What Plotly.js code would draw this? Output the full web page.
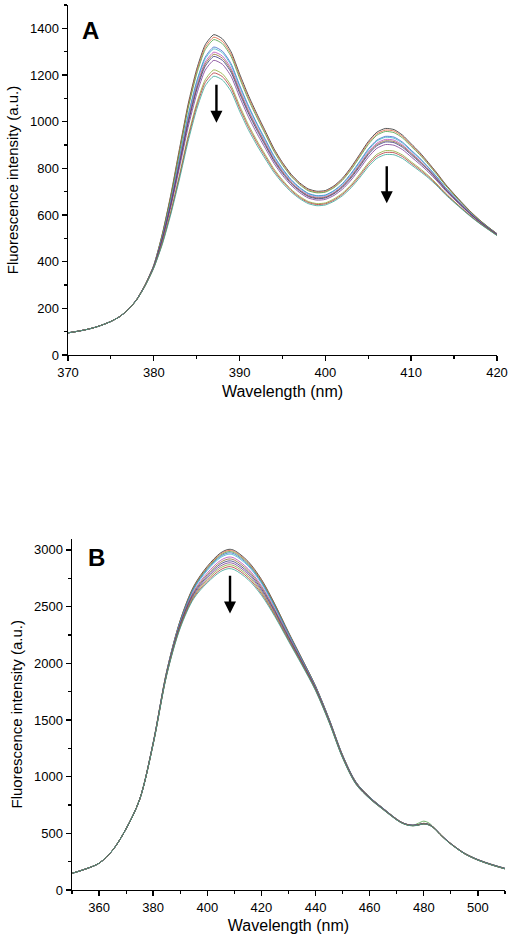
<!DOCTYPE html>
<html><head><meta charset="utf-8">
<script src="https://cdn.plot.ly/plotly-3.0.1.min.js"></script>
<style>html,body{margin:0;padding:0;background:#fff}</style>
</head><body><div id="chart" style="width:512px;height:947px"></div>
<script>
// ---------- Panel A data (wavelength in nm, intensity in a.u.) ----------
const wlA = [370,371,372,373,374,375,376,377,378,379,380,381,382,383,384,385,386,387,388,389,390,391,392,393,394,395,396,397,398,399,400,401,402,403,404,405,406,407,408,409,410,411,412,413,414,415,416,417,418,419,420];
const a1  = [95,101,108,117,129,144,164,194,238,302,385,520,690,885,1075,1225,1330,1373,1355,1300,1205,1115,1035,960,885,825,775,738,712,702,705,725,758,805,860,915,955,971,966,942,905,868,825,780,732,690,650,612,578,548,520];
const a2  = [95,101,108,117,129,144,164,194,238,302,384,517,685,877,1065,1215,1319,1362,1344,1290,1195,1106,1027,953,879,820,770,734,708,698,701,721,753,800,854,909,948,964,960,936,900,863,821,777,729,688,648,611,577,547,520];
const a3  = [95,101,108,117,129,144,164,194,238,301,384,515,680,869,1056,1204,1309,1352,1334,1280,1186,1097,1019,946,873,814,766,730,704,695,698,717,749,794,848,902,942,958,953,930,894,858,817,773,727,686,647,609,576,547,519];
const a4  = [95,101,108,117,129,144,164,194,237,300,381,506,664,846,1027,1173,1277,1320,1302,1249,1157,1071,994,924,854,799,752,718,693,683,686,705,735,779,830,883,921,937,934,912,878,844,805,763,718,679,642,606,573,545,518];
const a5  = [95,101,108,117,129,144,164,194,237,300,381,505,661,841,1021,1167,1270,1312,1295,1242,1151,1065,989,919,850,795,749,715,691,681,684,703,732,775,826,878,917,933,929,908,874,841,803,761,717,678,640,605,573,544,517];
const a6  = [95,101,108,117,129,144,164,194,237,300,380,501,654,830,1008,1153,1256,1298,1281,1229,1138,1053,978,910,842,788,743,709,686,676,679,697,726,768,818,870,908,924,921,900,867,834,797,757,713,675,638,603,572,543,517];
const a7  = [95,101,108,117,129,144,164,194,237,300,379,499,650,824,1000,1144,1247,1289,1272,1220,1130,1045,972,904,837,784,739,706,682,673,676,694,723,764,813,864,902,918,915,895,863,830,794,754,711,673,637,602,571,543,516];
const a8  = [95,101,108,117,129,144,164,194,237,299,379,497,646,817,992,1136,1238,1280,1263,1212,1122,1038,965,898,832,779,735,703,679,670,673,691,719,759,808,859,897,913,910,890,858,826,791,751,709,671,635,601,570,542,516];
const a9  = [95,101,108,117,129,144,164,194,237,299,378,492,637,804,976,1118,1221,1263,1246,1195,1106,1023,951,886,822,770,728,696,673,664,667,684,711,750,798,848,886,902,899,880,849,818,784,746,704,668,633,599,569,541,515];
const a10 = [95,101,108,117,129,144,164,194,236,298,375,482,618,774,939,1079,1180,1222,1205,1155,1069,989,920,858,798,750,710,680,658,649,652,669,694,730,775,823,860,876,874,857,828,800,769,733,694,659,626,594,565,539,513];
const a11 = [95,101,108,117,129,144,164,194,236,297,374,479,612,765,928,1067,1168,1209,1193,1144,1058,979,911,850,791,744,705,675,654,645,648,664,689,724,768,816,852,868,867,850,822,794,764,729,691,657,624,593,564,538,513];
const a12 = [95,101,108,117,129,144,164,194,236,297,373,475,605,755,915,1053,1154,1195,1179,1130,1045,967,900,840,783,737,699,670,649,640,643,659,683,717,760,807,843,859,858,842,815,788,759,725,687,654,622,591,563,537,512];

// ---------- Panel B data ----------
const wlB = [350,355,360,365,370,375,380,385,390,395,400,405,408,410,415,420,425,430,435,440,445,450,455,460,465,470,472,474,476,478,480,482,484,486,488,490,495,500,505,510];
const b1  = [147,185,236,350,540,800,1300,1930,2380,2680,2855,2975,3005,2995,2900,2740,2520,2275,2040,1800,1510,1190,950,820,720,625,595,578,572,578,588,578,545,495,450,410,325,268,226,191];
const b2  = [147,185,236,350,540,800,1299,1928,2376,2673,2846,2965,2995,2985,2890,2732,2513,2270,2037,1797,1508,1188,949,819,719,625,595,578,572,578,588,578,545,495,450,410,325,268,226,191];
const b3  = [147,185,236,350,540,800,1298,1926,2372,2667,2838,2955,2985,2975,2881,2723,2507,2265,2033,1795,1506,1187,948,818,719,624,594,577,571,589,607,589,544,494,449,409,324,267,225,190];
const b4  = [147,185,236,350,540,799,1297,1924,2367,2660,2829,2945,2974,2964,2871,2715,2500,2261,2030,1792,1504,1185,946,817,718,624,594,577,571,577,587,577,544,494,449,409,324,267,225,190];
const b5  = [147,185,236,350,540,799,1296,1921,2362,2652,2819,2934,2962,2952,2860,2705,2492,2255,2025,1789,1502,1183,945,816,717,623,593,576,570,576,586,576,543,493,448,408,324,267,225,190];
const b6  = [147,185,236,350,540,799,1294,1916,2352,2636,2797,2909,2937,2927,2836,2684,2476,2243,2017,1783,1497,1180,942,814,715,622,593,576,570,576,586,576,543,493,448,408,323,266,224,189];
const b7  = [147,185,236,350,540,798,1292,1912,2345,2625,2782,2892,2920,2910,2820,2670,2465,2235,2011,1779,1494,1177,940,812,714,621,592,575,569,575,585,575,542,492,447,407,322,265,223,188];
const b8  = [147,185,236,350,540,798,1291,1909,2338,2614,2768,2876,2903,2893,2804,2656,2454,2227,2005,1775,1491,1174,938,811,713,620,591,574,568,574,584,574,541,491,446,406,322,265,223,188];
const b9  = [147,185,236,350,540,798,1289,1905,2331,2603,2753,2859,2886,2876,2788,2642,2443,2219,1999,1771,1488,1172,936,809,712,619,591,574,568,574,584,574,541,491,446,406,321,264,222,187];
const b10 = [147,185,236,350,540,798,1288,1902,2324,2592,2739,2843,2869,2859,2772,2628,2432,2211,1994,1766,1484,1169,934,808,710,619,590,573,567,573,583,573,540,490,445,405,321,264,222,187];
const b11 = [147,185,236,350,540,797,1286,1898,2317,2581,2724,2826,2852,2842,2756,2614,2421,2203,1988,1762,1481,1167,932,806,709,618,590,573,567,573,583,573,540,490,445,405,320,263,221,186];
const b12 = [147,185,236,350,540,797,1285,1895,2310,2570,2710,2810,2835,2825,2740,2600,2410,2195,1982,1758,1478,1164,930,805,708,617,589,572,566,572,582,572,539,489,444,404,320,263,221,186];

const seriesA = [a1,a2,a3,a4,a5,a6,a7,a8,a9,a10,a11,a12];
const seriesB = [b1,b2,b3,b4,b5,b6,b7,b8,b9,b10,b11,b12];
const colors = ['#2a2a2a','#e0603a','#4aa040','#3a66c8','#3ab4cc','#b844b8','#8a6a2a','#34347e','#7a3a90','#8aa832','#b03434','#34a494'];

const traces = [];
seriesA.forEach((s,i)=>traces.push({x:wlA, y:s, xaxis:'x', yaxis:'y', type:'scatter', mode:'lines',
  line:{color:colors[i], width:0.8, shape:'spline', smoothing:0.6}, hoverinfo:'skip', showlegend:false}));
seriesB.forEach((s,i)=>traces.push({x:wlB, y:s, xaxis:'x2', yaxis:'y2', type:'scatter', mode:'lines',
  line:{color:colors[i], width:0.8, shape:'spline', smoothing:0.9}, hoverinfo:'skip', showlegend:false}));

const FONT = 'Liberation Sans, Arial, sans-serif';
function ax(o){
  return Object.assign({showline:true, linecolor:'#000', linewidth:1.4, ticks:'outside', ticklen:5, tickwidth:1.4,
    tickcolor:'#000', showgrid:false, zeroline:false, mirror:false, automargin:false,
    tickfont:{family:FONT, size:13, color:'#000'}}, o);
}
function minor(d){ return {ticks:'outside', ticklen:3, tickwidth:1.2, tickcolor:'#000', dtick:d, showgrid:false}; }
const xTitle = {text:'Wavelength (nm)', font:{family:FONT, size:16, color:'#000'}, standoff:6};
const yTitle = {text:'Fluorescence intensity (a.u.)', font:{family:FONT, size:15, color:'#000'}, standoff:8};

const layout = {
  width:512, height:947, margin:{l:0,r:0,t:0,b:0},
  paper_bgcolor:'#fff', plot_bgcolor:'#fff', showlegend:false,
  font:{family:FONT, color:'#000'},
  xaxis: ax({domain:[0.1328,0.9707], anchor:'y', range:[370,420], dtick:10, tick0:370, minor:minor(5), title:xTitle}),
  yaxis: ax({domain:[0.6251,0.9947], anchor:'x', range:[0,1500], dtick:200, tick0:0, minor:minor(100), title:yTitle}),
  xaxis2: ax({domain:[0.1406,0.9863], anchor:'y2', range:[350,510], dtick:20, tick0:360, minor:minor(10), title:xTitle}),
  yaxis2: ax({domain:[0.0602,0.4313], anchor:'x2', range:[0,3100], dtick:500, tick0:0, minor:minor(250), title:yTitle}),
  annotations:[
    {xref:'paper', yref:'paper', x:0.1758, y:0.9673, text:'<b>A</b>', showarrow:false, font:{family:FONT, size:24, color:'#000'}, xanchor:'center', yanchor:'middle'},
    {xref:'paper', yref:'paper', x:0.1875, y:0.4113, text:'<b>B</b>', showarrow:false, font:{family:FONT, size:24, color:'#000'}, xanchor:'center', yanchor:'middle'},
    {xref:'x', yref:'y', axref:'x', ayref:'y', x:387.3, y:995, ax:387.3, ay:1165, text:'', showarrow:true, arrowhead:2, arrowsize:1, arrowwidth:2.4, arrowcolor:'#000'},
    {xref:'x', yref:'y', axref:'x', ayref:'y', x:407.15, y:650, ax:407.15, ay:815, text:'', showarrow:true, arrowhead:2, arrowsize:1, arrowwidth:2.4, arrowcolor:'#000'},
    {xref:'x2', yref:'y2', axref:'x2', ayref:'y2', x:408.4, y:2440, ax:408.4, ay:2785, text:'', showarrow:true, arrowhead:2, arrowsize:1, arrowwidth:2.4, arrowcolor:'#000'}
  ]
};
Plotly.newPlot('chart', traces, layout, {staticPlot:true, displayModeBar:false});
</script></body></html>
